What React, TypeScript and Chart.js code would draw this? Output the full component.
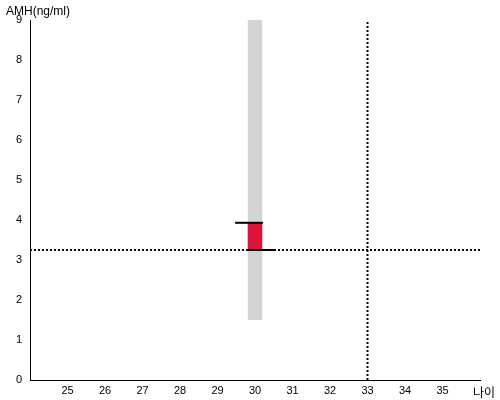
import React, { useEffect, useRef } from "react";
import { Chart, registerables } from "chart.js";

Chart.register(...registerables);

// ---- data ----
const xTickValues = [25, 26, 27, 28, 29, 30, 31, 32, 33, 34, 35];
const yTickValues = [0, 1, 2, 3, 4, 5, 6, 7, 8, 9];
const ageRange = [24, 36];
const amhRange = [0, 9];

const bandAge = [29.8, 30.2]; // grey reference band (x extent)
const bandAmh = [1.5, 9]; // grey reference band (y extent)

const barAge = [29.8, 30.2]; // red bar x extent
const barAmh = [3.25, 3.93]; // red bar: bottom, top

const topMarkerAge = [29.47, 30.21];
const topMarkerAmh = 3.93;
const bottomMarkerAge = [29.8, 30.53];
const bottomMarkerAmh = 3.25;

const refAge = 33;
const refAmh = 3.25;

const yTitle = "AMH(ng/ml)";
const xTitle = "나이";

const FONT = '"Liberation Sans", Arial, sans-serif';

const titlePlugin = {
  id: "cornerTitles",
  afterDraw(chart: any) {
    const ctx = chart.ctx;
    ctx.save();
    ctx.fillStyle = "#000";
    ctx.textBaseline = "alphabetic";
    ctx.textAlign = "left";
    ctx.font = `12px ${FONT}`;
    ctx.fillText(yTitle, 6, 15);
    ctx.font = `12px "Noto Sans CJK KR", sans-serif`;
    ctx.fillText(xTitle, 473, 397);
    ctx.restore();
  },
};

export default function App() {
  const canvasRef = useRef<HTMLCanvasElement | null>(null);

  useEffect(() => {
    if (!canvasRef.current) return;
    const chart = new Chart(canvasRef.current, {
      type: "line",
      data: {
        datasets: [
          {
            label: "band",
            data: [
              { x: bandAge[0], y: bandAmh[1] },
              { x: bandAge[1], y: bandAmh[1] },
            ],
            fill: { value: bandAmh[0] },
            backgroundColor: "#d3d3d3",
            borderWidth: 0,
            pointRadius: 0,
            order: 10,
          },
          {
            label: "refH",
            data: [
              { x: ageRange[0], y: refAmh },
              { x: ageRange[1], y: refAmh },
            ],
            borderColor: "#000",
            borderWidth: 2,
            borderDash: [2, 2],
            pointRadius: 0,
            fill: false,
            order: 9,
          },
          {
            label: "refV",
            data: [
              { x: refAge, y: amhRange[0] },
              { x: refAge, y: amhRange[1] },
            ],
            borderColor: "#000",
            borderWidth: 2,
            borderDash: [2, 2],
            pointRadius: 0,
            fill: false,
            order: 8,
          },
          {
            label: "bar",
            data: [
              { x: barAge[0], y: barAmh[1] },
              { x: barAge[1], y: barAmh[1] },
            ],
            fill: { value: barAmh[0] },
            backgroundColor: "#dc143c",
            borderWidth: 0,
            pointRadius: 0,
            order: 7,
          },
          {
            label: "top",
            data: [
              { x: topMarkerAge[0], y: topMarkerAmh },
              { x: topMarkerAge[1], y: topMarkerAmh },
            ],
            borderColor: "#000",
            borderWidth: 2,
            pointRadius: 0,
            fill: false,
            order: 6,
          },
          {
            label: "bottom",
            data: [
              { x: bottomMarkerAge[0], y: bottomMarkerAmh },
              { x: bottomMarkerAge[1], y: bottomMarkerAmh },
            ],
            borderColor: "#000",
            borderWidth: 2,
            pointRadius: 0,
            fill: false,
            order: 5,
          },
        ],
      },
      options: {
        animation: false,
        responsive: false,
        devicePixelRatio: 1,
        events: [],
        layout: { padding: { top: 20, right: 20, left: 0, bottom: 0 } },
        plugins: {
          legend: { display: false },
          tooltip: { enabled: false },
          title: { display: false },
        },
        scales: {
          x: {
            type: "linear",
            min: ageRange[0],
            max: ageRange[1],
            grid: { display: false, drawTicks: false },
            border: { display: true, color: "#000", width: 1 },
            ticks: {
              color: "#000",
              font: { family: FONT, size: 11 },
              padding: 4,
              autoSkip: false,
              maxRotation: 0,
            },
            afterBuildTicks: (scale: any) => {
              scale.ticks = xTickValues.map((v) => ({ value: v }));
            },
            afterFit: (scale: any) => {
              scale.height = 20;
            },
          },
          y: {
            type: "linear",
            min: amhRange[0],
            max: amhRange[1],
            grid: { display: false, drawTicks: false },
            border: { display: true, color: "#000", width: 1 },
            ticks: {
              color: "#000",
              font: { family: FONT, size: 11 },
              padding: 8,
              autoSkip: false,
            },
            afterBuildTicks: (scale: any) => {
              scale.ticks = yTickValues.map((v) => ({ value: v }));
            },
            afterFit: (scale: any) => {
              scale.width = 30;
            },
          },
        },
      } as any,
      plugins: [titlePlugin],
    });
    return () => chart.destroy();
  }, []);

  return (
    <div style={{ position: "absolute", left: 0, top: 0, width: 500, height: 400, background: "#fff" }}>
      <canvas ref={canvasRef} width={500} height={400} style={{ width: 500, height: 400, display: "block" }} />
    </div>
  );
}
